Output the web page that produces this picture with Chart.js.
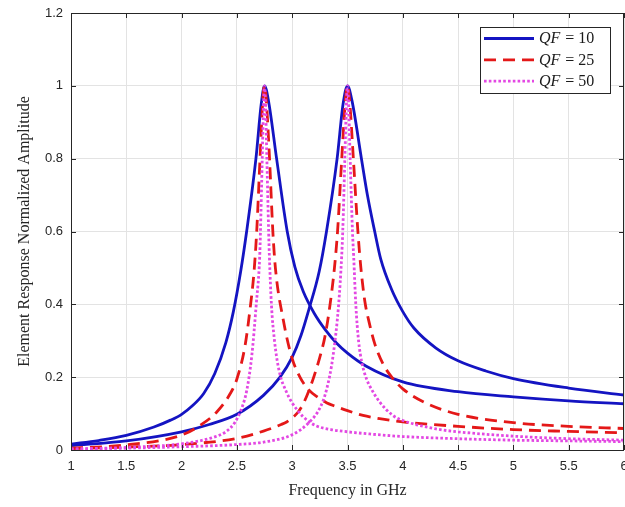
<!DOCTYPE html>
<html>
<head>
<meta charset="utf-8">
<script src="https://cdn.jsdelivr.net/npm/chart.js@4.4.1/dist/chart.umd.min.js"></script>
<style>
  html, body { margin: 0; padding: 0; background: #ffffff; }
  #wrap { width: 625px; height: 507px; }
</style>
</head>
<body>
<div id="wrap"><canvas id="c" width="625" height="507"></canvas></div>
<script>
// ---- Data ----
// QF = 10, resonance at 2.75 GHz
const f10a = [1.0, 1.25, 1.5, 1.75, 1.9, 2.0, 2.1, 2.2, 2.3, 2.4, 2.468, 2.534, 2.588, 2.672, 2.72, 2.75, 2.785, 2.859, 2.955, 3.024, 3.1, 3.2, 3.3, 3.4, 3.5, 3.67, 4.0, 4.5, 5.0, 5.5, 6.0];
const v10a = [0.016, 0.026, 0.040, 0.063, 0.082, 0.098, 0.122, 0.155, 0.21, 0.295, 0.38, 0.49, 0.60, 0.80, 0.95, 1.0, 0.96, 0.80, 0.60, 0.503, 0.435, 0.375, 0.33, 0.294, 0.266, 0.23, 0.187, 0.16, 0.146, 0.135, 0.127];
// QF = 10, resonance at 3.5 GHz
const f10b = [1.0, 1.5, 2.0, 2.25, 2.5, 2.74, 2.89, 3.0, 3.08, 3.15, 3.244, 3.31, 3.406, 3.46, 3.5, 3.54, 3.626, 3.68, 3.746, 3.8, 3.9, 4.0, 4.1, 4.3, 4.5, 4.75, 5.0, 5.5, 6.0];
const v10b = [0.012, 0.025, 0.05, 0.07, 0.098, 0.15, 0.20, 0.255, 0.315, 0.385, 0.49, 0.60, 0.80, 0.95, 1.0, 0.96, 0.80, 0.70, 0.60, 0.525, 0.44, 0.38, 0.335, 0.28, 0.245, 0.217, 0.196, 0.170, 0.151];
// QF = 25, resonance at 2.75 GHz
const f25a = [1.0, 1.5, 2.0, 2.17, 2.32, 2.44, 2.5, 2.573, 2.62, 2.655, 2.679, 2.709, 2.734, 2.75, 2.766, 2.795, 2.825, 2.848, 2.92, 2.995, 3.07, 3.15, 3.23, 3.31, 3.4, 3.5, 3.64, 3.79, 4.0, 4.5, 5.0, 5.5, 6.0];
const v25a = [0.005, 0.014, 0.041, 0.068, 0.105, 0.155, 0.195, 0.285, 0.39, 0.49, 0.60, 0.80, 0.96, 1.0, 0.96, 0.80, 0.60, 0.50, 0.356, 0.256, 0.20, 0.165, 0.145, 0.13, 0.119, 0.108, 0.095, 0.086, 0.077, 0.065, 0.056, 0.051, 0.047];
// QF = 25, resonance at 3.5 GHz
const f25b = [1.0, 1.5, 2.0, 2.5, 2.74, 2.9, 2.95, 3.0, 3.05, 3.1, 3.15, 3.2, 3.25, 3.295, 3.338, 3.382, 3.41, 3.448, 3.481, 3.5, 3.519, 3.553, 3.594, 3.621, 3.656, 3.70, 3.746, 3.82, 3.90, 4.0, 4.2, 4.5, 5.0, 5.5, 6.0];
const v25b = [0.004, 0.008, 0.015, 0.032, 0.052, 0.07, 0.077, 0.088, 0.103, 0.127, 0.162, 0.205, 0.255, 0.31, 0.39, 0.50, 0.60, 0.80, 0.96, 1.0, 0.96, 0.80, 0.60, 0.50, 0.41, 0.345, 0.292, 0.237, 0.20, 0.168, 0.13, 0.098, 0.075, 0.065, 0.059];
// QF = 50, resonance at 2.75 GHz
const f50a = [1.0, 1.5, 2.0, 2.3, 2.4, 2.48, 2.55, 2.59, 2.635, 2.675, 2.706, 2.713, 2.729, 2.742, 2.75, 2.758, 2.771, 2.787, 2.794, 2.812, 2.84, 2.88, 2.95, 3.05, 3.15, 3.22, 3.35, 3.5, 3.7, 4.0, 4.5, 5.0, 5.5, 6.0];
const v50a = [0.003, 0.007, 0.017, 0.036, 0.05, 0.075, 0.12, 0.165, 0.26, 0.40, 0.53, 0.60, 0.80, 0.96, 1.0, 0.96, 0.80, 0.60, 0.53, 0.40, 0.30, 0.22, 0.158, 0.108, 0.078, 0.066, 0.056, 0.050, 0.044, 0.037, 0.031, 0.027, 0.025, 0.023];
// QF = 50, resonance at 3.5 GHz
const f50b = [1.0, 1.5, 2.0, 2.5, 2.75, 3.0, 3.15, 3.25, 3.31, 3.37, 3.42, 3.447, 3.457, 3.476, 3.491, 3.5, 3.509, 3.524, 3.545, 3.556, 3.575, 3.60, 3.63, 3.67, 3.73, 3.79, 3.91, 4.0, 4.3, 4.5, 5.0, 5.5, 6.0];
const v50b = [0.002, 0.005, 0.009, 0.015, 0.022, 0.042, 0.075, 0.115, 0.165, 0.26, 0.40, 0.53, 0.60, 0.80, 0.96, 1.0, 0.96, 0.80, 0.60, 0.53, 0.40, 0.30, 0.24, 0.197, 0.16, 0.132, 0.095, 0.081, 0.058, 0.050, 0.038, 0.031, 0.027];

const xTickValues = [1, 1.5, 2, 2.5, 3, 3.5, 4, 4.5, 5, 5.5, 6];
const xTickLabels = ['1', '1.5', '2', '2.5', '3', '3.5', '4', '4.5', '5', '5.5', '6'];
const yTickValues = [0, 0.2, 0.4, 0.6, 0.8, 1.0, 1.2];
const yTickLabels = ['0', '0.2', '0.4', '0.6', '0.8', '1', '1.2'];

const legendLabels = ['10', '25', '50'];
const xTitle = 'Frequency in GHz';
const yTitle = 'Element Response Normalized Amplitude';

// ---- Styles ----
const BLUE = '#1414c2';
const RED = '#e41818';
const MAGENTA = '#e348e3';
const styles = {
  '10': { color: BLUE, dash: [], width: 2.8 },
  '25': { color: RED, dash: [12, 7], width: 2.8 },
  '50': { color: MAGENTA, dash: [2.6, 2.2], width: 2.8 }
};

function pts(fs, vs) { return fs.map((f, i) => ({ x: f, y: vs[i] })); }
function ds(fs, vs, key) {
  const s = styles[key];
  return {
    data: pts(fs, vs),
    borderColor: s.color,
    borderWidth: s.width,
    borderDash: s.dash,
    borderCapStyle: 'butt',
    pointRadius: 0,
    fill: false,
    showLine: true,
    cubicInterpolationMode: 'monotone'
  };
}

// first dataset drawn on top -> magenta first, blue last
const datasets = [
  ds(f50a, v50a, '50'), ds(f50b, v50b, '50'),
  ds(f25a, v25a, '25'), ds(f25b, v25b, '25'),
  ds(f10a, v10a, '10'), ds(f10b, v10b, '10')
];

const AXIS = '#262626';

const boxPlugin = {
  id: 'matlabBox',
  afterDatasetsDraw(chart) {
    const { ctx, chartArea: a, scales } = chart;
    ctx.save();
    ctx.strokeStyle = AXIS;
    ctx.lineWidth = 1;
    ctx.setLineDash([]);
    ctx.strokeRect(Math.round(a.left) + 0.5, Math.round(a.top) + 0.5,
                   Math.round(a.right - a.left) - 1, Math.round(a.bottom - a.top));
    const tl = 5;
    ctx.beginPath();
    scales.x.ticks.forEach(t => {
      const px = Math.round(scales.x.getPixelForValue(t.value)) + 0.5;
      ctx.moveTo(px, a.bottom); ctx.lineTo(px, a.bottom - tl);
      ctx.moveTo(px, a.top); ctx.lineTo(px, a.top + tl);
    });
    scales.y.ticks.forEach(t => {
      const py = Math.round(scales.y.getPixelForValue(t.value)) + 0.5;
      ctx.moveTo(a.left, py); ctx.lineTo(a.left + tl, py);
      ctx.moveTo(a.right, py); ctx.lineTo(a.right - tl, py);
    });
    ctx.stroke();

    // legend
    const lx = 480.5, ly = 27.5, lw = 130, lh = 66;
    ctx.fillStyle = '#ffffff';
    ctx.fillRect(lx, ly, lw, lh);
    ctx.strokeStyle = AXIS;
    ctx.lineWidth = 1;
    ctx.strokeRect(lx, ly, lw, lh);
    legendLabels.forEach((lab, i) => {
      const s = styles[lab];
      const y = 38.5 + i * 21.3;
      ctx.beginPath();
      ctx.strokeStyle = s.color;
      ctx.lineWidth = s.width;
      ctx.setLineDash(s.dash);
      ctx.lineCap = 'butt';
      ctx.moveTo(484, y); ctx.lineTo(534, y);
      ctx.stroke();
      ctx.setLineDash([]);
      ctx.fillStyle = '#1a1a1a';
      ctx.textBaseline = 'middle';
      ctx.textAlign = 'left';
      ctx.font = 'italic 16px "Liberation Serif", "DejaVu Serif", serif';
      const q = 'QF';
      ctx.fillText(q, 539, y + 0.5);
      const w = ctx.measureText(q).width;
      ctx.font = '16px "Liberation Serif", "DejaVu Serif", serif';
      ctx.fillText(' = ' + lab, 539 + w + 1, y + 0.5);
    });
    ctx.restore();
  }
};

new Chart(document.getElementById('c'), {
  type: 'scatter',
  data: { datasets },
  plugins: [boxPlugin],
  options: {
    responsive: false,
    animation: false,
    layout: { padding: { top: 13, right: 1, bottom: 0, left: 0 } },
    plugins: { legend: { display: false }, tooltip: { enabled: false } },
    scales: {
      x: {
        type: 'linear',
        min: 1, max: 6,
        afterBuildTicks: s => { s.ticks = xTickValues.map(v => ({ value: v })); },
        afterFit: s => { s.height = 57; s.paddingLeft = 0; s.paddingRight = 0; },
        ticks: {
          callback: (v) => { const i = xTickValues.indexOf(v); return i >= 0 ? xTickLabels[i] : ''; },
          color: '#262626',
          font: { family: '"Liberation Sans", Arial, sans-serif', size: 13 },
          padding: 9,
          maxRotation: 0,
          autoSkip: false
        },
        grid: { color: '#e3e3e3', lineWidth: 1, drawTicks: false },
        border: { display: false },
        title: {
          display: true,
          text: xTitle,
          color: '#262626',
          font: { family: '"Liberation Serif", "Times New Roman", serif', size: 16 },
          padding: { top: 0, bottom: 7 }
        }
      },
      y: {
        type: 'linear',
        min: 0, max: 1.2,
        afterBuildTicks: s => { s.ticks = yTickValues.map(v => ({ value: v })); },
        afterFit: s => { s.width = 71; s.paddingTop = 0; s.paddingBottom = 0; },
        ticks: {
          callback: (v) => { const i = yTickValues.findIndex(t => Math.abs(t - v) < 1e-9); return i >= 0 ? yTickLabels[i] : ''; },
          color: '#262626',
          font: { family: '"Liberation Sans", Arial, sans-serif', size: 13 },
          padding: 8,
          autoSkip: false
        },
        grid: { color: '#e3e3e3', lineWidth: 1, drawTicks: false },
        border: { display: false },
        title: {
          display: true,
          text: yTitle,
          color: '#262626',
          font: { family: '"Liberation Serif", "Times New Roman", serif', size: 16 },
          padding: { top: 15, bottom: 0 }
        }
      }
    }
  }
});
</script>
</body>
</html>
